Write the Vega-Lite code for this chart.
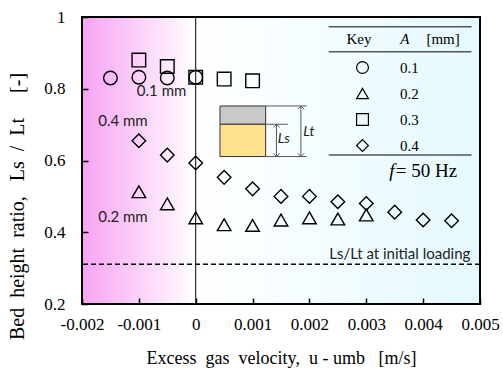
{
  "$schema": "https://vega.github.io/schema/vega-lite/v6.json",
  "width": 398,
  "height": 287,
  "autosize": {"type": "none"},
  "padding": {"left": 82, "top": 17, "right": 23, "bottom": 65},
  "background": "white",
  "config": {"view": {"stroke": null}, "font": "Liberation Serif"},
  "data": {"values": [
    {"u": -0.0015, "r": 0.83, "A": "0.1"},
    {"u": -0.001, "r": 0.832, "A": "0.1"},
    {"u": -0.0005, "r": 0.83, "A": "0.1"},
    {"u": 0, "r": 0.832, "A": "0.1"},
    {"u": -0.001, "r": 0.513, "A": "0.2"},
    {"u": -0.0005, "r": 0.479, "A": "0.2"},
    {"u": 0, "r": 0.44, "A": "0.2"},
    {"u": 0.0005, "r": 0.421, "A": "0.2"},
    {"u": 0.001, "r": 0.419, "A": "0.2"},
    {"u": 0.0015, "r": 0.434, "A": "0.2"},
    {"u": 0.002, "r": 0.44, "A": "0.2"},
    {"u": 0.0025, "r": 0.437, "A": "0.2"},
    {"u": 0.003, "r": 0.448, "A": "0.2"},
    {"u": -0.001, "r": 0.88, "A": "0.3"},
    {"u": -0.0005, "r": 0.862, "A": "0.3"},
    {"u": 0, "r": 0.832, "A": "0.3"},
    {"u": 0.0005, "r": 0.827, "A": "0.3"},
    {"u": 0.001, "r": 0.822, "A": "0.3"},
    {"u": -0.001, "r": 0.655, "A": "0.4"},
    {"u": -0.0005, "r": 0.615, "A": "0.4"},
    {"u": 0, "r": 0.593, "A": "0.4"},
    {"u": 0.0005, "r": 0.553, "A": "0.4"},
    {"u": 0.001, "r": 0.521, "A": "0.4"},
    {"u": 0.0015, "r": 0.5, "A": "0.4"},
    {"u": 0.002, "r": 0.5, "A": "0.4"},
    {"u": 0.0025, "r": 0.485, "A": "0.4"},
    {"u": 0.003, "r": 0.48, "A": "0.4"},
    {"u": 0.0035, "r": 0.456, "A": "0.4"},
    {"u": 0.004, "r": 0.434, "A": "0.4"},
    {"u": 0.0045, "r": 0.432, "A": "0.4"}
  ]},
  "layer": [
    {
      "data": {"values": [{}]},
      "mark": {"type": "rect", "fill": {"gradient": "linear", "x1": 0, "y1": 0, "x2": 1, "y2": 0, "stops": [
        {"offset": 0, "color": "#f7a3f4"},
        {"offset": 0.2857, "color": "#ffffff"},
        {"offset": 1, "color": "#e4f9fe"}
      ]}},
      "encoding": {
        "x": {"datum": -0.002, "type": "quantitative", "scale": {"domain": [-0.002, 0.005], "nice": false, "zero": false},
          "axis": {"values": [-0.002, -0.001, 0, 0.001, 0.002, 0.003, 0.004, 0.005],
            "labelExpr": "replace(format(datum.value, '~g'), '\u2212', '-')",
            "tickSize": -6, "tickColor": "black", "tickWidth": 1.5, "domain": false, "grid": false,
            "labelFontSize": 17, "labelFont": "Liberation Serif", "labelColor": "black", "labelPadding": 18,
            "labelFlush": false, "labelOverlap": false,
            "title": "Excess\u00a0\u00a0gas\u00a0\u00a0velocity,\u00a0\u00a0u\u00a0-\u00a0umb\u00a0\u00a0\u00a0[m/s]", "titleFont": "Liberation Serif", "titleFontSize": 18,
            "titleFontWeight": "normal", "titleColor": "black", "titlePadding": 17, "zindex": 1}},
        "x2": {"datum": 0.005},
        "y": {"datum": 0.2, "type": "quantitative", "scale": {"domain": [0.2, 1], "nice": false, "zero": false},
          "axis": {"values": [0.2, 0.4, 0.6, 0.8, 1],
            "labelExpr": "format(datum.value, '~g')",
            "tickSize": -6, "tickColor": "black", "tickWidth": 1.5, "domain": false, "grid": false,
            "labelFontSize": 17, "labelFont": "Liberation Serif", "labelColor": "black", "labelPadding": 23,
            "title": "Bed\u00a0\u00a0height\u00a0\u00a0ratio,\u00a0\u00a0\u00a0Ls\u00a0\u00a0/\u00a0\u00a0Lt\u00a0\u00a0\u00a0\u00a0\u00a0[-]", "titleFont": "Liberation Serif", "titleFontSize": 20,
            "titleFontWeight": "normal", "titleColor": "black", "titleAngle": -90, "titleX": -65, "titleY": 189,
            "titleAlign": "center", "titleBaseline": "middle", "zindex": 1}},
        "y2": {"datum": 1}
      }
    },
    {
      "data": {"values": [{}]},
      "mark": {"type": "rule", "color": "black", "strokeWidth": 1.5, "strokeDash": [5, 3]},
      "encoding": {"y": {"datum": 0.311}}
    },
    {
      "data": {"values": [{}]},
      "mark": {"type": "rule", "color": "black", "strokeWidth": 1},
      "encoding": {"x": {"datum": 0}}
    },
    {
      "data": {"values": [{}]},
      "mark": {"type": "rect", "fill": "#c9c9c9", "stroke": "#333333", "strokeWidth": 1},
      "encoding": {"x": {"datum": 0.000427}, "x2": {"datum": 0.00123}, "y": {"datum": 0.701}, "y2": {"datum": 0.752}}
    },
    {
      "data": {"values": [{}]},
      "mark": {"type": "rect", "fill": "#ffe08c", "stroke": "#333333", "strokeWidth": 1},
      "encoding": {"x": {"datum": 0.000427}, "x2": {"datum": 0.00123}, "y": {"datum": 0.611}, "y2": {"datum": 0.701}}
    },
    {
      "data": {"values": [{}]},
      "mark": {"type": "rule", "color": "#555555", "strokeWidth": 1},
      "encoding": {"x": {"datum": 0.00123}, "x2": {"datum": 0.00195}, "y": {"datum": 0.752}}
    },
    {
      "data": {"values": [{}]},
      "mark": {"type": "rule", "color": "#555555", "strokeWidth": 1},
      "encoding": {"x": {"datum": 0.00123}, "x2": {"datum": 0.00162}, "y": {"datum": 0.701}}
    },
    {
      "data": {"values": [{}]},
      "mark": {"type": "rule", "color": "#555555", "strokeWidth": 1},
      "encoding": {"x": {"datum": 0.00123}, "x2": {"datum": 0.00195}, "y": {"datum": 0.611}}
    },
    {
      "data": {"values": [{}]},
      "mark": {"type": "rule", "color": "#555555", "strokeWidth": 1},
      "encoding": {"x": {"datum": 0.00142}, "y": {"datum": 0.611}, "y2": {"datum": 0.701}}
    },
    {
      "data": {"values": [{}]},
      "mark": {"type": "rule", "color": "#555555", "strokeWidth": 1},
      "encoding": {"x": {"datum": 0.00185}, "y": {"datum": 0.611}, "y2": {"datum": 0.752}}
    },
    {
      "data": {"values": [{}]},
      "mark": {"type": "point", "shape": "M-1,1L0,0L1,1", "filled": false, "color": "#555555", "strokeWidth": 1, "size": 40, "opacity": 1},
      "encoding": {"x": {"datum": 0.00142}, "y": {"datum": 0.701}}
    },
    {
      "data": {"values": [{}]},
      "mark": {"type": "point", "shape": "M-1,-1L0,0L1,-1", "filled": false, "color": "#555555", "strokeWidth": 1, "size": 40, "opacity": 1},
      "encoding": {"x": {"datum": 0.00142}, "y": {"datum": 0.611}}
    },
    {
      "data": {"values": [{}]},
      "mark": {"type": "point", "shape": "M-1,1L0,0L1,1", "filled": false, "color": "#555555", "strokeWidth": 1, "size": 40, "opacity": 1},
      "encoding": {"x": {"datum": 0.00185}, "y": {"datum": 0.752}}
    },
    {
      "data": {"values": [{}]},
      "mark": {"type": "point", "shape": "M-1,-1L0,0L1,-1", "filled": false, "color": "#555555", "strokeWidth": 1, "size": 40, "opacity": 1},
      "encoding": {"x": {"datum": 0.00185}, "y": {"datum": 0.611}}
    },
    {
      "data": {"values": [{}]},
      "mark": {"type": "text", "text": "Ls", "font": "Lato", "fontStyle": "italic", "fontSize": 14, "align": "center", "baseline": "middle", "color": "#222222"},
      "encoding": {"x": {"datum": 0.00155}, "y": {"datum": 0.659}}
    },
    {
      "data": {"values": [{}]},
      "mark": {"type": "text", "text": "Lt", "font": "Lato", "fontStyle": "italic", "fontSize": 14, "align": "center", "baseline": "middle", "color": "#222222"},
      "encoding": {"x": {"datum": 0.00199}, "y": {"datum": 0.68}}
    },
    {
      "data": {"values": [{}]},
      "mark": {"type": "rule", "color": "#555555", "strokeWidth": 1.5},
      "encoding": {"x": {"datum": 0.00234}, "x2": {"datum": 0.00485}, "y": {"datum": 0.973}}
    },
    {
      "data": {"values": [{}]},
      "mark": {"type": "rule", "color": "#555555", "strokeWidth": 1.5},
      "encoding": {"x": {"datum": 0.00234}, "x2": {"datum": 0.00485}, "y": {"datum": 0.9033}}
    },
    {
      "data": {"values": [{}]},
      "mark": {"type": "rule", "color": "#555555", "strokeWidth": 1.5},
      "encoding": {"x": {"datum": 0.00234}, "x2": {"datum": 0.00485}, "y": {"datum": 0.6153}}
    },
    {
      "data": {"values": [{}]},
      "mark": {"type": "text", "text": "Key", "font": "Liberation Serif", "fontSize": 15, "align": "center", "baseline": "middle", "color": "black"},
      "encoding": {"x": {"datum": 0.00287}, "y": {"datum": 0.9387}}
    },
    {
      "data": {"values": [{}]},
      "mark": {"type": "text", "text": "A", "font": "Liberation Serif", "fontStyle": "italic", "fontSize": 15, "align": "center", "baseline": "middle", "color": "black"},
      "encoding": {"x": {"datum": 0.00368}, "y": {"datum": 0.9387}}
    },
    {
      "data": {"values": [{}]},
      "mark": {"type": "text", "text": "[mm]", "font": "Liberation Serif", "fontSize": 15, "align": "center", "baseline": "middle", "color": "black"},
      "encoding": {"x": {"datum": 0.00435}, "y": {"datum": 0.9387}}
    },
    {
      "data": {"values": [{}]},
      "mark": {"type": "text", "text": "f", "font": "Liberation Serif", "fontStyle": "italic", "fontSize": 19, "align": "center", "baseline": "middle", "color": "black"},
      "encoding": {"x": {"datum": 0.00345}, "y": {"datum": 0.5707}}
    },
    {
      "data": {"values": [{}]},
      "mark": {"type": "text", "text": "= 50 Hz", "font": "Liberation Serif", "fontSize": 19, "align": "left", "baseline": "middle", "color": "black"},
      "encoding": {"x": {"datum": 0.00352}, "y": {"datum": 0.5707}}
    },
    {
      "data": {"values": [{}]},
      "mark": {"type": "text", "text": "0.1 mm", "font": "Lato", "fontSize": 15, "align": "center", "baseline": "middle", "color": "#222222"},
      "encoding": {"x": {"datum": -0.0006}, "y": {"datum": 0.795}}
    },
    {
      "data": {"values": [{}]},
      "mark": {"type": "text", "text": "0.4 mm", "font": "Lato", "fontSize": 15, "align": "center", "baseline": "middle", "color": "#222222"},
      "encoding": {"x": {"datum": -0.00128}, "y": {"datum": 0.71}}
    },
    {
      "data": {"values": [{}]},
      "mark": {"type": "text", "text": "0.2 mm", "font": "Lato", "fontSize": 15, "align": "center", "baseline": "middle", "color": "#222222"},
      "encoding": {"x": {"datum": -0.00128}, "y": {"datum": 0.443}}
    },
    {
      "data": {"values": [{}]},
      "mark": {"type": "text", "text": "Ls/Lt at initial loading", "font": "Lato", "fontSize": 15, "align": "right", "baseline": "middle", "color": "#222222"},
      "encoding": {"x": {"datum": 0.00483}, "y": {"datum": 0.339}}
    },
    {
      "mark": {"type": "point", "filled": false, "color": "black", "strokeWidth": 1.4, "opacity": 1, "size": 185},
      "encoding": {
        "x": {"field": "u", "type": "quantitative"},
        "y": {"field": "r", "type": "quantitative"},
        "shape": {"field": "A", "type": "nominal",
          "scale": {"domain": ["0.1", "0.2", "0.3", "0.4"], "range": ["circle", "triangle-up", "square", "diamond"]},
          "legend": {"orient": "none", "legendX": 273, "legendY": 43, "title": null, "padding": 0,
            "symbolSize": 140, "symbolStrokeWidth": 1.2, "rowPadding": 9, "labelOffset": 30,
            "labelFont": "Liberation Serif", "labelFontSize": 15, "labelColor": "black",
            "encode": {"symbols": {"update": {"stroke": {"value": "#808080"}, "fill": {"value": "transparent"}}}}}}
      }
    },
    {
      "data": {"values": [{}]},
      "mark": {"type": "rect", "fillOpacity": 0, "stroke": "black", "strokeWidth": 2},
      "encoding": {"x": {"datum": -0.002}, "x2": {"datum": 0.005}, "y": {"datum": 0.2}, "y2": {"datum": 1}}
    }
  ]
}
